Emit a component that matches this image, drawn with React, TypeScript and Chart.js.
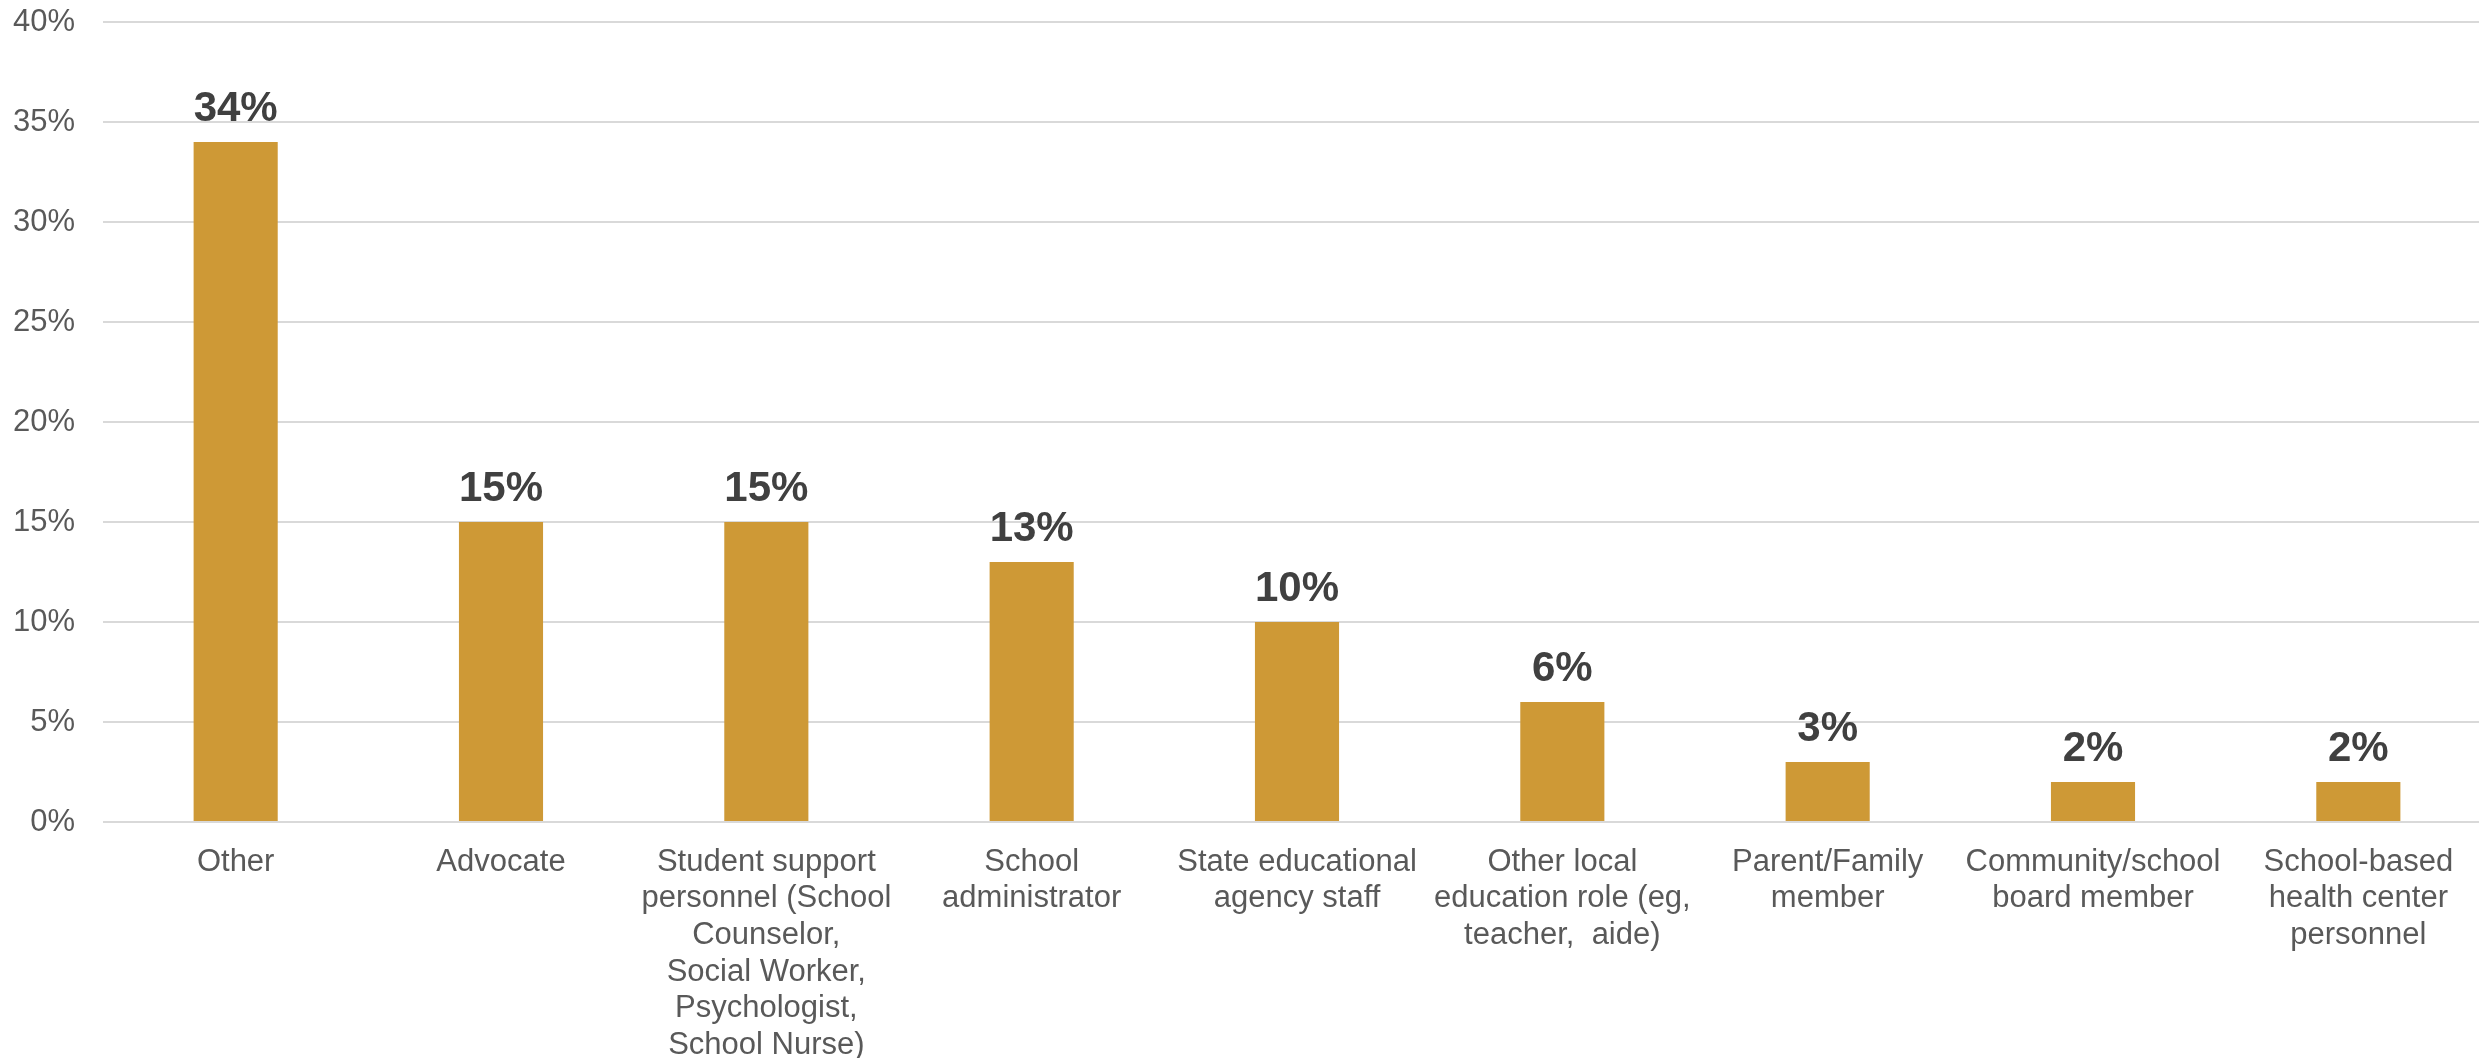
import React, { useEffect, useRef } from "react";
import { Chart, registerables } from "chart.js";

Chart.register(...registerables);

const categories: (string | string[])[] = [
  "Other",
  "Advocate",
  ["Student support", "personnel (School", "Counselor,", "Social Worker,", "Psychologist,", "School Nurse)"],
  ["School", "administrator"],
  ["State educational", "agency staff"],
  ["Other local", "education role (eg,", "teacher,  aide)"],
  ["Parent/Family", "member"],
  ["Community/school", "board member"],
  ["School-based", "health center", "personnel"],
];

const values: number[] = [34, 15, 15, 13, 10, 6, 3, 2, 2];
const yTicks: number[] = [0, 5, 10, 15, 20, 25, 30, 35, 40];

const FONT = "'Liberation Sans', Arial, Helvetica, sans-serif";

const dataLabelPlugin = {
  id: "dataLabels",
  afterDatasetsDraw(chart: any) {
    const ctx = chart.ctx;
    const meta = chart.getDatasetMeta(0);
    ctx.save();
    ctx.font = `bold 42px ${FONT}`;
    ctx.fillStyle = "#404040";
    ctx.textAlign = "center";
    ctx.textBaseline = "alphabetic";
    meta.data.forEach((bar: any, i: number) => {
      ctx.fillText(`${values[i]}%`, bar.x, bar.y - 21);
    });
    ctx.restore();
  },
};

export default function App() {
  const ref = useRef<HTMLCanvasElement | null>(null);

  useEffect(() => {
    if (!ref.current) return;
    const chart = new Chart(ref.current, {
      type: "bar",
      data: {
        labels: categories,
        datasets: [
          {
            data: values,
            backgroundColor: "#CE9936",
            borderWidth: 0,
            categoryPercentage: 1,
            barPercentage: 0.317,
          },
        ],
      },
      options: {
        responsive: false,
        animation: false,
        devicePixelRatio: 1,
        layout: { padding: { top: 22, left: 0, right: 0, bottom: 0 } },
        plugins: {
          legend: { display: false },
          tooltip: { enabled: false },
        },
        scales: {
          x: {
            grid: { display: false },
            border: { display: false },
            ticks: {
              autoSkip: false,
              maxRotation: 0,
              minRotation: 0,
              padding: 14,
              color: "#595959",
              font: { family: FONT, size: 31, lineHeight: 1.18 },
            },
            afterFit: (s: any) => {
              s.height = 236;
              s.paddingLeft = 0;
              s.paddingRight = 0;
            },
          },
          y: {
            min: 0,
            max: 40,
            afterBuildTicks: (s: any) => {
              s.ticks = yTicks.map((v) => ({ value: v }));
            },
            grid: { color: "#D9D9D9", lineWidth: 2, drawTicks: false },
            border: { display: false },
            ticks: {
              padding: 28,
              color: "#595959",
              font: { family: FONT, size: 31 },
              callback: (v: any) => `${v}%`,
            },
            afterFit: (s: any) => {
              s.width = 103;
              s.paddingTop = 0;
              s.paddingBottom = 0;
            },
          },
        },
      },
      plugins: [dataLabelPlugin],
    });
    return () => chart.destroy();
  }, []);

  return (
    <div
      style={{
        position: "fixed",
        left: 0,
        top: 0,
        width: "100vw",
        height: "100vh",
        overflow: "hidden",
        background: "#fff",
      }}
    >
      <canvas ref={ref} width={2491} height={1058} style={{ width: 2491, height: 1058, display: "block" }} />
    </div>
  );
}
